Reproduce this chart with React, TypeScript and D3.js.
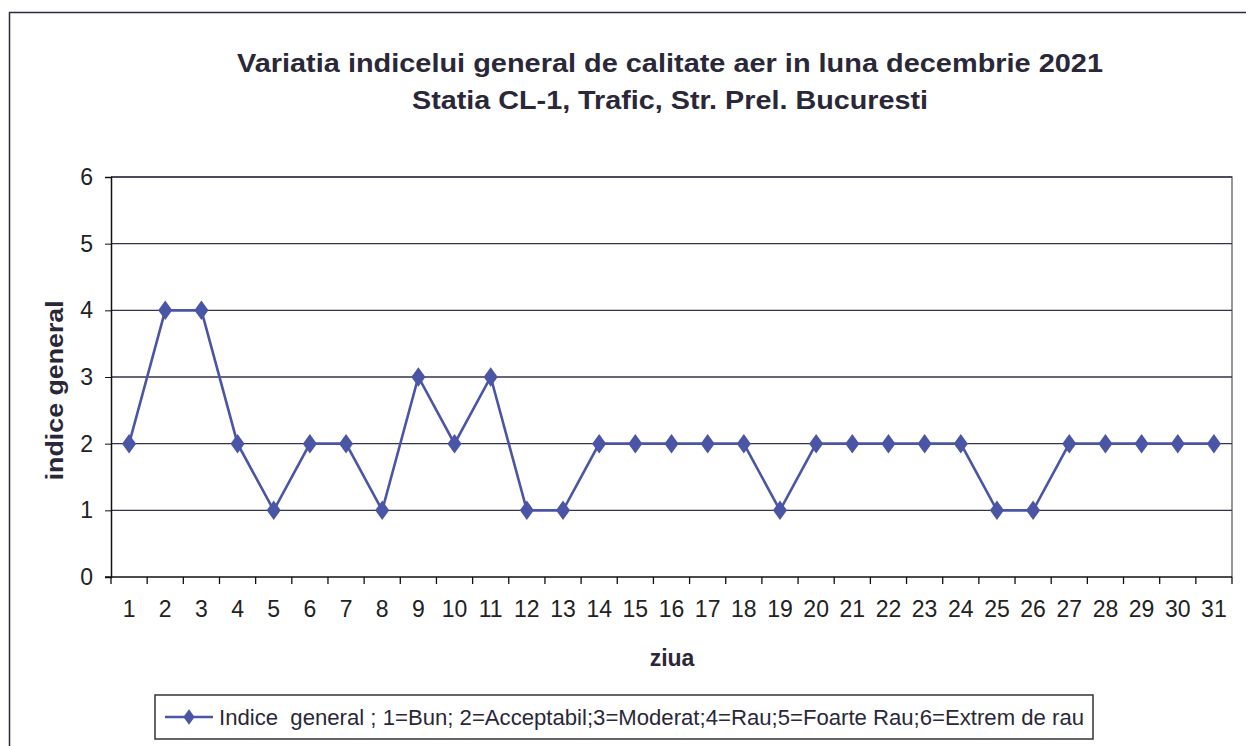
import React, { useEffect, useRef } from "react";
import * as d3 from "d3";

const days = d3.range(1, 32).map(String);
const indiceGeneral = [2, 4, 4, 2, 1, 2, 2, 1, 3, 2, 3, 1, 1, 2, 2, 2, 2, 2, 1, 2, 2, 2, 2, 2, 1, 1, 2, 2, 2, 2, 2];
const yTicks = [0, 1, 2, 3, 4, 5, 6];
const titleLines = [
  "Variatia indicelui general de calitate aer in luna decembrie 2021",
  "Statia CL-1, Trafic, Str. Prel. Bucuresti",
];
const legendLabel = "Indice  general ; 1=Bun; 2=Acceptabil;3=Moderat;4=Rau;5=Foarte Rau;6=Extrem de rau";

export default function App() {
  const svgRef = useRef<SVGSVGElement | null>(null);

  useEffect(() => {
    const width = 1246;
    const height = 746;
    const margin = { top: 177, right: 14, bottom: 169, left: 111 };
    const font = "'Liberation Sans', Arial, sans-serif";
    const lineColor = "#4b55a6";
    const textColor = "#2a2838";

    const svg = d3.select(svgRef.current)
      .attr("width", width)
      .attr("height", height)
      .style("position", "absolute")
      .style("left", "0px")
      .style("top", "0px")
      .style("background", "#fff");
    svg.selectAll("*").remove();

    // outer frame
    svg.append("path")
      .attr("d", `M9.5,${height} L9.5,12.5 L${width},12.5`)
      .attr("fill", "none")
      .attr("stroke", "#2b2b3a")
      .attr("stroke-width", 1.5);

    const x = d3.scaleBand().domain(days).range([margin.left, width - margin.right]);
    const y = d3.scaleLinear().domain([0, 6]).range([height - margin.bottom, margin.top]);

    const titleWidths = [866, 516];
    titleLines.forEach((t, i) => {
      svg.append("text")
        .attr("x", 670)
        .attr("y", 72 + i * 37)
        .attr("text-anchor", "middle")
        .attr("font-family", font)
        .attr("font-weight", "bold")
        .attr("font-size", 26)
        .attr("textLength", titleWidths[i])
        .attr("lengthAdjust", "spacingAndGlyphs")
        .attr("fill", textColor)
        .text(t);
    });

    // plot area border (right, top)
    svg.append("path")
      .attr("d", `M${x.range()[0]},${y(6)} L${x.range()[1]},${y(6)} L${x.range()[1]},${y(0)}`)
      .attr("fill", "none")
      .attr("stroke", "#777")
      .attr("stroke-width", 1.5);

    // gridlines
    svg.append("g")
      .selectAll("line")
      .data(yTicks.filter((d) => d > 0))
      .enter()
      .append("line")
      .attr("x1", x.range()[0])
      .attr("x2", x.range()[1])
      .attr("y1", (d) => y(d))
      .attr("y2", (d) => y(d))
      .attr("stroke", "#33334a")
      .attr("stroke-width", 1.3);

    // y axis
    const yAxis = svg.append("g")
      .attr("transform", `translate(${margin.left},0)`)
      .call(d3.axisLeft(y).tickValues(yTicks).tickSize(6).tickPadding(12).tickFormat(d3.format("d")));
    yAxis.select(".domain").attr("stroke", "#111").attr("stroke-width", 1.5);
    yAxis.selectAll("line").attr("stroke", "#111");
    yAxis.selectAll("text")
      .attr("font-family", font)
      .attr("font-size", 23)
      .attr("fill", "#222");

    // x axis with ticks between categories
    const xAxis = svg.append("g").attr("transform", `translate(0,${y(0)})`);
    xAxis.append("line")
      .attr("x1", x.range()[0] - 6)
      .attr("x2", x.range()[1])
      .attr("stroke", "#111")
      .attr("stroke-width", 1.5);
    xAxis.selectAll(".tick")
      .data(d3.range(0, days.length + 1))
      .enter()
      .append("line")
      .attr("x1", (i) => x.range()[0] + i * x.step())
      .attr("x2", (i) => x.range()[0] + i * x.step())
      .attr("y1", 0)
      .attr("y2", 7)
      .attr("stroke", "#111")
      .attr("stroke-width", 1.3);
    xAxis.selectAll(".lbl")
      .data(days)
      .enter()
      .append("text")
      .attr("x", (d) => (x(d) ?? 0) + x.bandwidth() / 2)
      .attr("y", 40)
      .attr("text-anchor", "middle")
      .attr("font-family", font)
      .attr("font-size", 23)
      .attr("fill", "#222")
      .text((d) => d);

    // axis titles
    svg.append("text")
      .attr("x", 672)
      .attr("y", 666)
      .attr("text-anchor", "middle")
      .attr("font-family", font)
      .attr("font-weight", "bold")
      .attr("font-size", 23)
      .attr("fill", textColor)
      .text("ziua");

    svg.append("text")
      .attr("transform", `translate(63,${y(2.8)}) rotate(-90)`)
      .attr("text-anchor", "middle")
      .attr("font-family", font)
      .attr("font-weight", "bold")
      .attr("font-size", 23)
      .attr("textLength", 180)
      .attr("lengthAdjust", "spacingAndGlyphs")
      .attr("fill", textColor)
      .text("indice general");

    // series
    const cx = (i: number) => (x(days[i]) ?? 0) + x.bandwidth() / 2;
    const line = d3.line<number>()
      .x((_, i) => cx(i))
      .y((d) => y(d));

    svg.append("path")
      .datum(indiceGeneral)
      .attr("d", line)
      .attr("fill", "none")
      .attr("stroke", lineColor)
      .attr("stroke-width", 2.6);

    const diamond = d3.symbol().type(d3.symbolDiamond).size(110);
    svg.selectAll(".pt")
      .data(indiceGeneral)
      .enter()
      .append("path")
      .attr("d", diamond)
      .attr("transform", (d, i) => `translate(${cx(i)},${y(d)}) scale(1.25,1)`)
      .attr("fill", lineColor);

    // legend
    const legend = svg.append("g").attr("transform", "translate(155,695)");
    legend.append("rect")
      .attr("width", 938)
      .attr("height", 44)
      .attr("fill", "#fff")
      .attr("stroke", "#333")
      .attr("stroke-width", 1.5);
    legend.append("line")
      .attr("x1", 10)
      .attr("x2", 58)
      .attr("y1", 22)
      .attr("y2", 22)
      .attr("stroke", lineColor)
      .attr("stroke-width", 2.5);
    legend.append("path")
      .attr("d", d3.symbol().type(d3.symbolDiamond).size(70))
      .attr("transform", "translate(34,22) scale(1.25,1)")
      .attr("fill", lineColor);
    legend.append("text")
      .attr("x", 64)
      .attr("y", 30)
      .attr("font-family", font)
      .attr("font-size", 22)
      .attr("textLength", 865)
      .attr("lengthAdjust", "spacingAndGlyphs")
      .attr("fill", textColor)
      .style("white-space", "pre")
      .text(legendLabel);
  }, []);

  return (
    <div>
      <svg ref={svgRef}></svg>
    </div>
  );
}
